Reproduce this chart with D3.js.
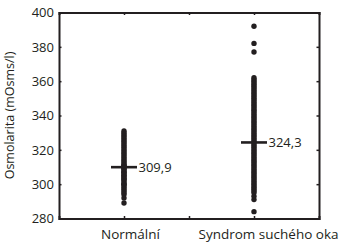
<!DOCTYPE html>
<html>
<head>
<meta charset="utf-8">
<script src="https://cdn.jsdelivr.net/npm/d3@7"></script>
<style>
  body { margin: 0; background: #fff; }
  text { font-family: "Open Sans", sans-serif; fill: #231f20; }
</style>
</head>
<body>
<svg id="chart" width="340" height="244"></svg>
<script>
// groups and their mean labels
const groups = ['Normální', 'Syndrom suchého oka'];
const means = [309.9, 324.3];
const meanLabels = ['309,9', '324,3'];
const yTicks = [280, 300, 320, 340, 360, 380, 400];

const normalValues = [289, 292, 294, 295, 296, 297, 298, 299, 300, 300, 301, 302, 303, 303,
    304, 305, 305, 306, 307, 307, 308, 309, 309, 310, 311, 311, 312, 313, 314, 315, 316,
    317, 318, 319, 320, 321, 322, 323, 324, 325, 326, 327, 328, 329, 330, 331];
const dryEyeValues = [284, 291, 293, 295, 296, 297, 298, 299, 300, 301, 302, 303, 304, 305,
    306, 307, 308, 309, 310, 311, 312, 313, 314, 315, 316, 317, 318, 319, 320, 321, 322,
    323, 324, 325, 326, 327, 328, 329, 330, 331, 332, 333, 334, 335, 336, 337, 338, 339,
    340, 341, 342, 343, 344, 345, 346, 347, 348, 349, 350, 351, 352, 353, 354, 355, 356,
    357, 358, 359, 360, 361, 362, 377, 382, 392];
const values = [normalValues, dryEyeValues];

const svg = d3.select('#chart');
const margin = { left: 59, right: 21, top: 12.5, bottom: 25.5 };
const width = 340 - margin.left - margin.right;
const height = 244 - margin.top - margin.bottom;

const x = d3.scaleLinear().domain([0.5, 2.5]).range([0, width]);
const y = d3.scaleLinear().domain([280, 400]).range([height, 0]);

const g = svg.append('g').attr('transform', `translate(${margin.left},${margin.top})`);

// points
values.forEach((vals, i) => {
    g.append('g')
        .selectAll('circle')
        .data(vals)
        .join('circle')
        .attr('cx', x(i + 1))
        .attr('cy', (d) => y(d))
        .attr('r', 2.7)
        .attr('fill', '#231f20');
});

// mean bars
g.selectAll('.mean')
    .data(means)
    .join('line')
    .attr('class', 'mean')
    .attr('x1', (d, i) => x(i + 1) - 13)
    .attr('x2', (d, i) => x(i + 1) + 13)
    .attr('y1', (d) => y(d))
    .attr('y2', (d) => y(d))
    .attr('stroke', '#231f20')
    .attr('stroke-width', 2.6);

g.selectAll('.mean-label')
    .data(means)
    .join('text')
    .attr('class', 'mean-label')
    .attr('x', (d, i) => x(i + 1) + 14.5)
    .attr('y', (d) => y(d))
    .attr('dy', '0.35em')
    .attr('font-size', 13)
    .text((d, i) => meanLabels[i]);

// axes, ticks inward
const tickLen = 2.5;
g.append('g')
    .call(d3.axisLeft(y).tickValues(yTicks).tickSize(-tickLen).tickPadding(5))
    .call((a) => a.selectAll('text').attr('font-size', 13));
g.append('g')
    .attr('transform', `translate(${width},0)`)
    .call(d3.axisRight(y).tickValues(yTicks).tickSize(-tickLen).tickFormat(''));
g.append('g')
    .attr('transform', `translate(0,${height})`)
    .call(d3.axisBottom(x).tickValues([1, 1.5, 2]).tickSize(-tickLen)
        .tickFormat((d) => (d === 1 ? groups[0] : d === 2 ? groups[1] : '')).tickPadding(11))
    .call((a) => a.selectAll('text')
        .attr('font-size', 13.5)
        .attr('dx', (d) => (d === 1 ? 6 : 14)));
g.append('g')
    .call(d3.axisTop(x).tickValues([1, 1.5, 2]).tickSize(-tickLen).tickFormat(''));

g.selectAll('.domain').attr('stroke', '#231f20').attr('stroke-width', 2);
g.selectAll('.tick line').attr('stroke', '#231f20').attr('stroke-width', 1.5);
g.selectAll('.tick text').style('fill', '#231f20').attr('font-family', '"Open Sans", sans-serif');

// y title
svg.append('text')
    .attr('transform', `translate(14,${margin.top + height / 2}) rotate(-90)`)
    .attr('text-anchor', 'middle')
    .attr('font-size', 12.5)
    .text('Osmolarita (mOsms/l)');
</script>
</body>
</html>
